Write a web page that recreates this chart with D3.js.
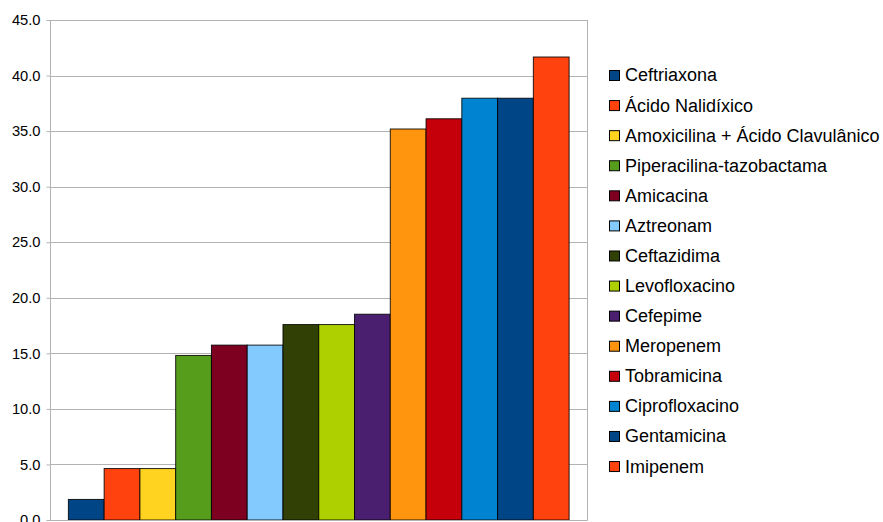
<!DOCTYPE html>
<html>
<head>
<meta charset="utf-8">
<script src="https://cdn.jsdelivr.net/npm/d3@7"></script>
<style>
  html, body { margin: 0; padding: 0; background: #fff; }
  svg { display: block; }
  text { font-family: "Liberation Sans", Arial, sans-serif; fill: #000; }
</style>
</head>
<body>
<svg id="chart" width="883" height="522"></svg>
<script>
// Resistance percentages per antibiotic (one series per drug)
const antibiotics = [
  "Ceftriaxona", "Ácido Nalidíxico", "Amoxicilina + Ácido Clavulânico",
  "Piperacilina-tazobactama", "Amicacina", "Aztreonam", "Ceftazidima",
  "Levofloxacino", "Cefepime", "Meropenem", "Tobramicina",
  "Ciprofloxacino", "Gentamicina", "Imipenem"
];
const percentages = [1.85, 4.63, 4.63, 14.81, 15.74, 15.74, 17.59, 17.59, 18.52, 35.19, 36.11, 37.96, 37.96, 41.67];
const seriesColors = [
  "#004586", "#ff420e", "#ffd320", "#579d1c", "#7e0021", "#83caff", "#314004",
  "#aecf00", "#4b1f6f", "#ff950e", "#c5000b", "#0084d1", "#004586", "#ff420e"
];
const yTicks = [0, 5, 10, 15, 20, 25, 30, 35, 40, 45];

const svg = d3.select("#chart");
const plot = { left: 50.5, right: 587, top: 20, bottom: 520 };

const x = d3.scaleBand()
  .domain(antibiotics)
  .range([plot.left, plot.right])
  .paddingInner(0)
  .paddingOuter(0.5);

const y = d3.scaleLinear()
  .domain([0, 45])
  .range([plot.bottom, plot.top]);

// Horizontal gridlines
svg.append("g")
  .selectAll("line")
  .data(yTicks)
  .join("line")
  .attr("x1", plot.left)
  .attr("x2", plot.right)
  .attr("y1", d => Math.round(y(d)) + 0.5)
  .attr("y2", d => Math.round(y(d)) + 0.5)
  .attr("stroke", "#b3b3b3")
  .attr("stroke-width", 1);

// Right border of the plot area
svg.append("line")
  .attr("x1", plot.right + 0.5).attr("x2", plot.right + 0.5)
  .attr("y1", plot.top).attr("y2", plot.bottom + 0.5)
  .attr("stroke", "#b3b3b3");

// Bars
svg.append("g")
  .selectAll("rect")
  .data(antibiotics)
  .join("rect")
  .attr("x", d => x(d))
  .attr("y", (d, i) => y(percentages[i]))
  .attr("width", x.bandwidth())
  .attr("height", (d, i) => y(0) - y(percentages[i]))
  .attr("fill", (d, i) => seriesColors[i])
  .attr("stroke", "#000")
  .attr("stroke-opacity", 0.85)
  .attr("stroke-width", 1);

// Y axis
const yAxis = d3.axisLeft(y)
  .tickValues(yTicks)
  .tickFormat(d3.format(".1f"))
  .tickSize(4)
  .tickPadding(6);

const axisG = svg.append("g")
  .attr("transform", `translate(${plot.left},0)`)
  .call(yAxis);
axisG.select(".domain").attr("stroke", "#b3b3b3").attr("d", `M0,${plot.top}V${plot.bottom + 0.5}`);
axisG.selectAll(".tick line").attr("stroke", "#b3b3b3");
axisG.selectAll(".tick text")
  .attr("font-family", "Liberation Sans, Arial, sans-serif")
  .attr("font-size", 14.7)
  .attr("fill", "#000");

// Bottom axis line
svg.append("line")
  .attr("x1", plot.left).attr("x2", plot.right + 0.5)
  .attr("y1", plot.bottom + 0.5).attr("y2", plot.bottom + 0.5)
  .attr("stroke", "#b3b3b3");

// Legend
const legend = svg.append("g").attr("transform", "translate(609,75)");
const rows = legend.selectAll("g")
  .data(antibiotics)
  .join("g")
  .attr("transform", (d, i) => `translate(0,${i * 30.08})`);
rows.append("rect")
  .attr("x", 0.5).attr("y", -4.5)
  .attr("width", 10).attr("height", 10)
  .attr("fill", (d, i) => seriesColors[i])
  .attr("stroke", "#000")
  .attr("stroke-width", 1);
rows.append("text")
  .attr("x", 16)
  .attr("y", 0)
  .attr("dy", "0.36em")
  .attr("font-size", 18)
  .text(d => d);
</script>
</body>
</html>
